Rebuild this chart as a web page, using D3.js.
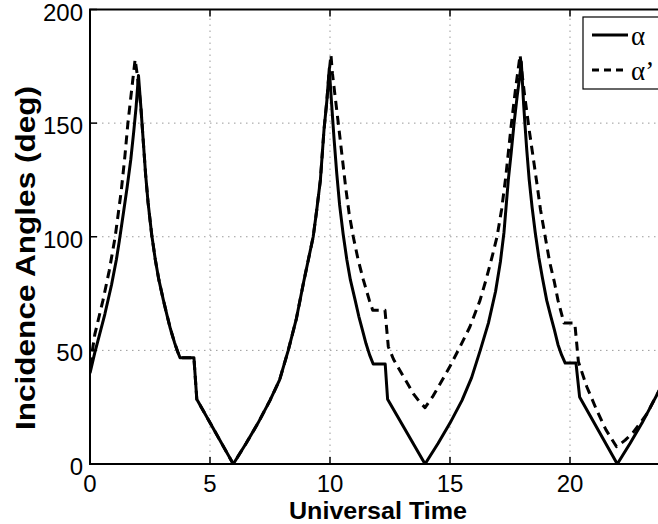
<!DOCTYPE html>
<meta charset="utf-8">
<style>
  body { margin: 0; background: #fff; }
  svg { display: block; font-family: "Liberation Sans", Arial, sans-serif; }
  .grid line { stroke: #9a9a9a; stroke-width: 1; stroke-dasharray: 1.5,4.5; }
  .frame { fill: none; stroke: #000; stroke-width: 2; }
  .tick-label { font-size: 24px; fill: #000; }
  .axis-title { font-size: 24px; font-weight: bold; fill: #000; }
  .line { fill: none; stroke: #000; stroke-width: 3; stroke-linejoin: round; }
  .dashed { stroke-dasharray: 9,6; }
</style>
<body></body>
<script src="https://d3js.org/d3.v7.min.js"></script>
<script>
// alpha (solid) - time [h] and angle [deg]
var alphaTime = [0, 0.2, 0.4, 0.62, 0.9, 1.1, 1.22, 1.4, 1.55, 1.7, 1.82, 1.92, 2.02,
  2.12, 2.22, 2.32, 2.42, 2.57, 2.72, 2.87, 3.06, 3.22, 3.35, 3.52, 3.65, 3.75, 4.33, 4.45, 5.97,
  6.5, 7, 7.5, 7.9, 8.26, 8.6, 8.9, 9.1, 9.3, 9.45, 9.6, 9.75, 9.87, 9.97,
  10.07, 10.17, 10.28, 10.4, 10.55, 10.7, 10.85, 11.05, 11.2, 11.35, 11.5, 11.65, 11.8, 12.3, 12.4, 13.96,
  14.5, 15, 15.5, 15.9, 16.26, 16.6, 16.9, 17.1, 17.25, 17.43, 17.55, 17.67, 17.8, 17.9, 17.97,
  18.07, 18.12, 18.2, 18.3, 18.42, 18.55, 18.7, 18.85, 19.03, 19.2, 19.35, 19.5, 19.65, 19.8, 20.25, 20.4, 21.97,
  22.5, 23, 23.5, 24];
var alphaDeg = [40, 49, 57, 66, 79, 90, 98, 111, 122, 134, 146, 157, 171,
  157, 142, 127, 115, 101, 90, 81, 72, 65, 59.5, 53.5, 49.5, 46.8, 46.8, 28.5, 0,
  9, 18, 28, 37, 50, 64, 80, 90, 100, 112, 125, 147, 160, 174,
  158, 143, 128, 114, 101, 90, 81, 72, 65, 59, 53, 48, 44, 44, 28.5, 0,
  9, 18, 28, 38, 50, 62, 76, 89, 102, 125, 137, 150, 162, 170, 177,
  158, 150, 138, 125, 113, 102, 91, 82, 72, 65, 59, 52.5, 48, 44.4, 44.4, 29.5, 0,
  9, 18, 28, 38];

// alpha' (dashed)
var alphaPTime = [0, 0.2, 0.54, 0.8, 1.05, 1.3, 1.45, 1.58, 1.75, 1.88, 1.96, 2.06, 2.12,
  2.22, 2.32, 2.42, 2.57, 2.72, 2.87, 3.06, 3.22, 3.35, 3.52, 3.65, 3.75, 4.33, 4.45, 5.97,
  6.5, 7, 7.5, 7.9, 8.26, 8.6, 8.9, 9.1, 9.3, 9.45, 9.6, 9.75, 9.87, 9.95, 10.04,
  10.1, 10.2, 10.3, 10.4, 10.52, 10.65, 10.8, 10.97, 11.17, 11.39, 11.64, 11.78, 12.29, 12.43,
  12.65, 12.92, 13.2, 13.47, 13.72, 13.96, 14.3, 14.6, 15, 15.42, 15.83, 16.25, 16.5, 16.75, 16.96,
  17.15, 17.32, 17.54, 17.73, 17.92, 18, 18.1, 18.2, 18.3, 18.45, 18.6, 18.77, 18.95, 19.15, 19.35, 19.5,
  19.75, 20.2, 20.35, 20.7, 21.1, 21.5, 21.94, 22.3, 22.64, 23.2, 23.46, 24];
var alphaPDeg = [43, 57, 72, 85, 100, 120, 135, 150, 166, 178, 172, 163, 157,
  142, 127, 115, 101, 90, 81, 72, 65, 59.5, 53.5, 49.5, 46.8, 46.8, 28.5, 0,
  9, 18, 28, 37, 50, 64, 80, 90, 100, 112, 125, 147, 160, 171, 180,
  172, 163, 154, 145, 134, 122, 110, 100, 90, 81, 72, 67.7, 67.7, 51.6,
  46, 41, 36, 31, 27.5, 24.8, 30, 35.5, 43, 51.6, 60.4, 72, 81, 91, 100,
  112, 126, 148, 165, 180, 172, 163, 155, 147, 136, 125, 112, 101, 89, 80, 72,
  62, 62, 45, 34, 24, 15, 7.6, 10.5, 14, 22, 27.3, 38];

var xTicks = [0, 5, 10, 15, 20];
var yTicks = [0, 50, 100, 150, 200];
var seriesNames = ['\u03b1', '\u03b1\u2019'];

var W = 658, H = 524;
var margin = {left: 90, top: 9.5};
var plotW = 576, plotH = 454.5;

var svg = d3.select('body').append('svg').attr('width', W).attr('height', H);

var x = d3.scaleLinear().domain([0, 24]).range([margin.left, margin.left + plotW]);
var y = d3.scaleLinear().domain([0, 200]).range([margin.top + plotH, margin.top]);

// grid
var grid = svg.append('g').attr('class', 'grid');
grid.selectAll('.gx').data(xTicks.slice(1)).enter().append('line')
  .attr('x1', d => x(d)).attr('x2', d => x(d))
  .attr('y1', y(0)).attr('y2', y(200));
grid.selectAll('.gy').data(yTicks.slice(1, -1)).enter().append('line')
  .attr('x1', x(0)).attr('x2', x(24))
  .attr('y1', d => y(d)).attr('y2', d => y(d));

svg.append('defs').append('clipPath').attr('id', 'clip')
  .append('rect').attr('x', x(0)).attr('y', y(200)).attr('width', plotW).attr('height', plotH);

var line = d3.line().x(d => x(d[0])).y(d => y(d[1]));
var plot = svg.append('g').attr('clip-path', 'url(#clip)');
plot.append('path').attr('class', 'line')
  .attr('d', line(d3.zip(alphaTime, alphaDeg)));
plot.append('path').attr('class', 'line dashed')
  .attr('d', line(d3.zip(alphaPTime, alphaPDeg)));

// inward ticks
var tk = svg.append('g').attr('stroke', '#000').attr('stroke-width', 1.5);
xTicks.forEach(function (d) {
  tk.append('line').attr('x1', x(d)).attr('x2', x(d)).attr('y1', y(0)).attr('y2', y(0) - 7);
  tk.append('line').attr('x1', x(d)).attr('x2', x(d)).attr('y1', y(200)).attr('y2', y(200) + 7);
});
yTicks.forEach(function (d) {
  tk.append('line').attr('x1', x(0)).attr('x2', x(0) + 7).attr('y1', y(d)).attr('y2', y(d));
});

// frame
svg.append('rect').attr('class', 'frame')
  .attr('x', x(0)).attr('y', y(200)).attr('width', plotW).attr('height', plotH);

// tick labels
svg.selectAll('.xl').data(xTicks).enter().append('text')
  .attr('class', 'tick-label').attr('text-anchor', 'middle')
  .attr('x', d => x(d)).attr('y', y(0) + 28).text(d => d);
svg.selectAll('.yl').data(yTicks).enter().append('text')
  .attr('class', 'tick-label').attr('text-anchor', 'end')
  .attr('x', x(0) - 7).attr('y', d => y(d) + 11).text(d => d);

// axis titles
svg.append('text').attr('class', 'axis-title').attr('text-anchor', 'middle')
  .attr('textLength', 178).attr('lengthAdjust', 'spacingAndGlyphs')
  .attr('x', margin.left + plotW / 2).attr('y', 519).text('Universal Time');
svg.append('text').attr('class', 'axis-title').attr('text-anchor', 'middle')
  .style('font-size', '27px')
  .attr('textLength', 344).attr('lengthAdjust', 'spacingAndGlyphs')
  .attr('transform', 'translate(35,258) rotate(-90)').text('Incidence Angles (deg)');

// legend
var lg = svg.append('g');
lg.append('rect').attr('x', 583).attr('y', 17).attr('width', 120).attr('height', 72)
  .attr('fill', '#fff').attr('stroke', '#000').attr('stroke-width', 1.2);
seriesNames.forEach(function (name, i) {
  var ly = 35 + i * 35;
  lg.append('line').attr('class', 'line')
    .attr('x1', 592).attr('x2', 628).attr('y1', ly).attr('y2', ly)
    .style('stroke-dasharray', i ? '7,5' : null);
  lg.append('text').attr('x', 631).attr('y', ly + 10)
    .style('font-family', '"Liberation Serif", "Times New Roman", serif')
    .style('font-size', '27px').text(name);
});
</script>
